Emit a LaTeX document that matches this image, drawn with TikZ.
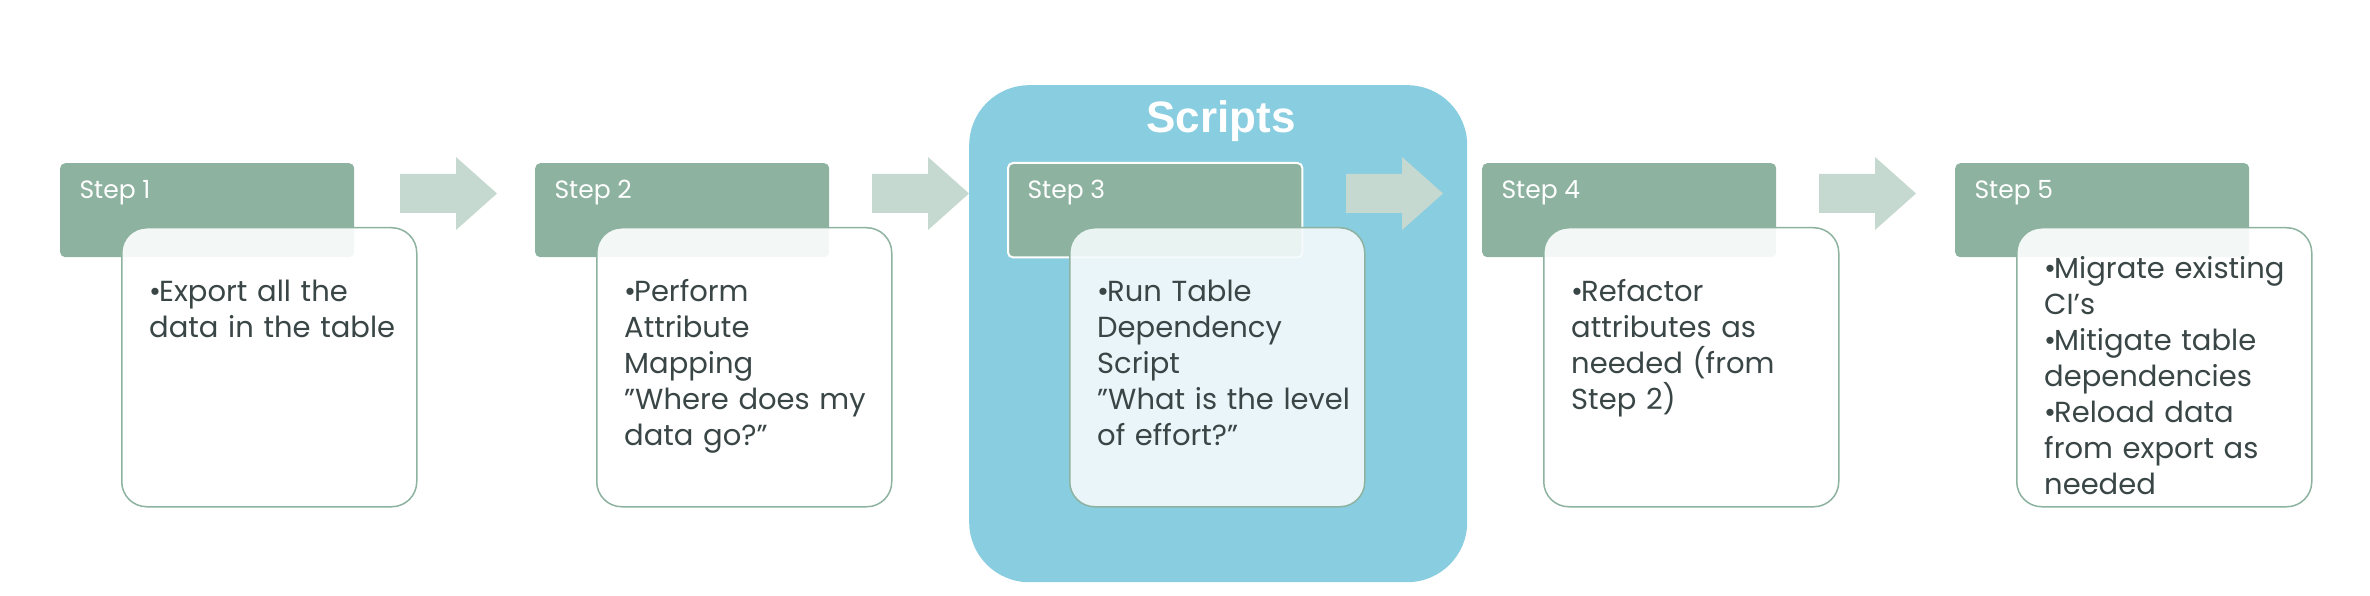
\documentclass[tikz,border=0pt]{standalone}
\usepackage{fontspec}
\setmainfont{Poppins}
\newfontfamily\arialb{Liberation Sans}
\definecolor{hdr}{HTML}{8DB3A0}
\definecolor{arr}{HTML}{C6D9D0}
\definecolor{blu}{HTML}{89CDE0}
\definecolor{txt}{HTML}{3A4646}
\newcommand{\bitem}[1]{\par\noindent\makebox[10pt][l]{\textbullet}#1}
\newcommand{\q}{\symbol{34}}
\begin{document}
\begin{tikzpicture}[x=1pt,y=-1pt,
  hdr/.style={fill=hdr,rounded corners=5pt,minimum width=294pt,minimum height=94pt,anchor=north west,inner sep=0pt},
  hlab/.style={anchor=west,text=white,font=\fontsize{25}{30}\selectfont},
  body/.style={draw=hdr,line width=1.5pt,fill=white,fill opacity=0.9,text opacity=1,rounded corners=25pt,minimum width=295pt,minimum height=279pt,anchor=north west,inner sep=0pt},
  btxt/.style={anchor=north west,text=txt,text width=265pt,align=left,inner sep=0pt,font=\fontsize{29}{36}\selectfont},
  arrow/.style={fill=arr}]
\useasboundingbox (0,0) rectangle (2370,596);
\node[fill=blu,rounded corners=60pt,minimum width=498pt,minimum height=497pt,anchor=north west,inner sep=0pt] (grp) at (969,85) {};
\node[text=white,font=\arialb\bfseries\fontsize{44}{50}\selectfont] (scr) at (1221,121) {Scripts};
\foreach \i/\x in {1/60,2/535,3/1008,4/1482,5/1955}{
  \node[hdr] (h\i) at (\x,163) {};
  \node[hlab] (l\i) at (\x+16,193) {Step \i};
}
\draw[white,line width=2pt,rounded corners=5pt] (h3.north west) rectangle (h3.south east);
\foreach \i/\x in {1/60,2/535,4/1482,5/1955}{
  \node[body] (b\i) at (\x+61,227) {};
}
\node[body,fill=blu!9] (b3) at (1069,227) {};
\foreach \i/\x in {1/400,2/872,3/1346,4/1819}{
  \coordinate (a\i) at (\x,174);
  \fill[arrow] (a\i) -- ++(56,0) -- ++(0,-17) -- ++(41,36.5) -- ++(-41,36.5) -- ++(0,-17) -- ++(-56,0) -- cycle;
}
\node[btxt] (t1) at ([shift={(28,38)}]b1.north west) {\bitem{Export all the}\\data in the table};
\node[btxt] (t2) at ([shift={(28,38)}]b2.north west) {\bitem{Perform}\\Attribute\\Mapping\\\q Where does my\\data go?\q};
\node[btxt] (t3) at ([shift={(28,38)}]b3.north west) {\bitem{Run Table}\\Dependency\\Script\\\q What is the level\\of effort?\q};
\node[btxt] (t4) at ([shift={(28,38)}]b4.north west) {\bitem{Refactor}\\attributes as\\needed (from\\Step 2)};
\node[btxt] (t5) at ([shift={(28,15)}]b5.north west) {\bitem{Migrate existing}\\CI's\bitem{Mitigate table}\\dependencies\bitem{Reload data}\\from export as\\needed};
\end{tikzpicture}
\end{document}
